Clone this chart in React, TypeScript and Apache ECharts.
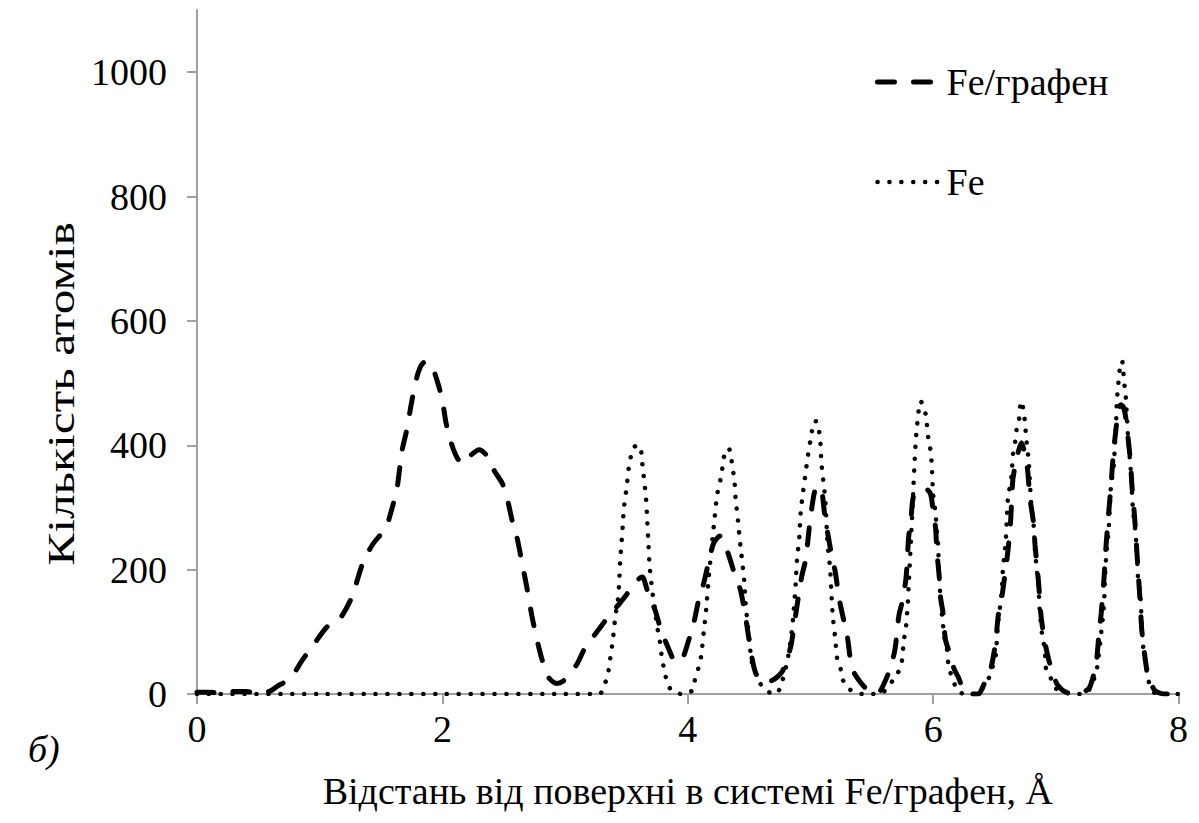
import React, { useEffect, useRef } from "react";
import * as echarts from "echarts";

const xTicks = [0, 2, 4, 6, 8];
const yTicks = [0, 200, 400, 600, 800, 1000];

const seriesNames = ["Fe/графен", "Fe"];
const xTitle = "Відстань від поверхні в системі Fe/графен, Å";
const yTitle = "Кількість атомів";
const panelLabel = "б)";

// Fe/графен (dashed)
const feGrX = [
  0, 0.1, 0.2, 0.3, 0.4, 0.5, 0.6, 0.65, 0.76, 0.86, 0.96, 1.06, 1.16, 1.26, 1.35, 1.43, 1.54, 1.59, 1.63,
  1.67, 1.71, 1.75, 1.8, 1.85, 1.9, 1.96, 2.0, 2.03, 2.07, 2.12, 2.17, 2.22, 2.3, 2.36, 2.42, 2.49, 2.53,
  2.57, 2.61, 2.65, 2.69, 2.73, 2.77, 2.81, 2.86, 2.93, 2.98, 3.05, 3.1, 3.16, 3.26, 3.34, 3.45, 3.54, 3.6,
  3.63, 3.67, 3.74, 3.78, 3.85, 3.9, 3.95, 4.01, 4.05, 4.09, 4.13, 4.17, 4.21, 4.26, 4.32, 4.39, 4.43, 4.47,
  4.52, 4.55, 4.6, 4.69, 4.77, 4.84, 4.89, 4.93, 4.96, 5.0, 5.04, 5.08, 5.12, 5.17, 5.2, 5.24, 5.3, 5.34,
  5.41, 5.47, 5.53, 5.57, 5.65, 5.69, 5.72, 5.75, 5.78, 5.8, 5.82, 5.84, 5.89, 5.94, 5.98, 6.0, 6.02, 6.03,
  6.05, 6.06, 6.08, 6.1, 6.13, 6.17, 6.21, 6.25, 6.3, 6.37, 6.41, 6.47, 6.51, 6.53, 6.56, 6.59, 6.61, 6.63,
  6.64, 6.65, 6.68, 6.72, 6.75, 6.77, 6.79, 6.82, 6.83, 6.86, 6.88, 6.91, 6.94, 6.98, 7.02, 7.1, 7.2, 7.27,
  7.3, 7.33, 7.35, 7.37, 7.39, 7.41, 7.43, 7.45, 7.47, 7.49, 7.51, 7.53, 7.55, 7.57, 7.59, 7.61, 7.62, 7.64,
  7.65, 7.67, 7.69, 7.7, 7.72, 7.74, 7.77, 7.81, 7.89, 8.0,
];
const feGrY = [
  3, 3, 1, 4, 4, 1, 5, 12, 25, 55, 82, 108, 120, 155, 210, 240, 268, 299, 330,
  390, 425, 470, 515, 533, 532, 502, 472, 436, 405, 380, 370, 382, 393, 384, 360, 338, 313,
  278, 250, 210, 170, 125, 88, 57, 28, 17, 20, 35, 49, 73, 100, 121, 147, 170, 185,
  188, 167, 131, 104, 70, 52, 54, 88, 115, 152, 178, 212, 242, 254, 231, 188, 167, 125,
  62, 36, 20, 22, 36, 77, 141, 190, 215, 283, 330, 333, 283, 226, 199, 147, 93, 41,
  18, 6, 1, 5, 41, 73, 125, 150, 188, 251, 283, 318, 329, 330, 321, 294, 267, 231,
  188, 156, 131, 88, 68, 41, 25, 5, 0, 0, 14, 41, 84, 125, 156, 199, 231, 273,
  310, 345, 378, 404, 384, 360, 314, 273, 241, 178, 125, 84, 57, 30, 13, 2, 2, 9,
  25, 50, 93, 130, 178, 240, 289, 336, 389, 425, 455, 465, 462, 445, 410, 370, 336, 290,
  262, 200, 140, 104, 70, 41, 20, 5, 0, 0,
];

// Fe (dotted)
const feX = [
  0, 1, 2, 3, 3.28, 3.32, 3.35, 3.37, 3.39, 3.41, 3.43, 3.44, 3.45, 3.47, 3.48, 3.5, 3.52, 3.54, 3.56, 3.59,
  3.62, 3.63, 3.64, 3.66, 3.67, 3.68, 3.69, 3.71, 3.73, 3.75, 3.77, 3.79, 3.81, 3.83, 3.87, 3.95, 4.04, 4.06,
  4.09, 4.11, 4.13, 4.15, 4.17, 4.2, 4.22, 4.24, 4.26, 4.28, 4.29, 4.31, 4.33, 4.35, 4.36, 4.38, 4.39, 4.41,
  4.42, 4.43, 4.45, 4.46, 4.47, 4.48, 4.5, 4.52, 4.55, 4.58, 4.64, 4.72, 4.76, 4.81, 4.84, 4.86, 4.88, 4.89,
  4.91, 4.92, 4.94, 4.96, 4.98, 5.0, 5.01, 5.03, 5.05, 5.07, 5.08, 5.09, 5.1, 5.12, 5.13, 5.14, 5.16, 5.17,
  5.18, 5.2, 5.22, 5.25, 5.27, 5.33, 5.42, 5.55, 5.6, 5.7, 5.74, 5.76, 5.78, 5.79, 5.8, 5.81, 5.82, 5.83,
  5.84, 5.85, 5.86, 5.87, 5.88, 5.895, 5.91, 5.94, 5.96, 5.98, 5.99, 6.0, 6.02, 6.03, 6.04, 6.05, 6.07, 6.08,
  6.09, 6.11, 6.13, 6.17, 6.19, 6.26, 6.35, 6.44, 6.48, 6.51, 6.52, 6.53, 6.55, 6.56, 6.57, 6.59, 6.6, 6.61,
  6.64, 6.65, 6.67, 6.68, 6.7, 6.71, 6.72, 6.74, 6.75, 6.76, 6.78, 6.79, 6.8, 6.82, 6.83, 6.84, 6.86, 6.87,
  6.89, 6.91, 6.92, 6.96, 7.0, 7.05, 7.13, 7.24, 7.29, 7.33, 7.35, 7.37, 7.39, 7.4, 7.41, 7.43, 7.44, 7.45,
  7.47, 7.48, 7.49, 7.5, 7.51, 7.52, 7.54, 7.55, 7.56, 7.57, 7.58, 7.59, 7.61, 7.62, 7.63, 7.65, 7.66, 7.67,
  7.69, 7.7, 7.71, 7.73, 7.75, 7.78, 7.82, 8.0,
];
const feY = [
  0, 0, 0, 0, 0, 14, 33, 60, 88, 125, 150, 175, 215, 270, 300, 330, 365, 385, 396, 401,
  390, 370, 352, 314, 278, 241, 204, 167, 140, 109, 88, 57, 38, 20, 5, 0, 6, 25,
  44, 62, 99, 136, 185, 246, 285, 321, 338, 360, 376, 393, 395, 389, 370, 345, 314, 278,
  257, 238, 202, 183, 150, 128, 91, 54, 35, 20, 5, 0, 14, 52, 88, 125, 178, 215,
  254, 291, 325, 355, 384, 408, 420, 439, 438, 423, 408, 370, 352, 314, 278, 241, 202, 167,
  131, 93, 54, 38, 20, 6, 0, 0, 4, 30, 46, 84, 110, 136, 172, 210, 250, 290,
  335, 378, 410, 433, 452, 471, 468, 449, 412, 390, 365, 321, 290, 262, 243, 185, 131, 112,
  93, 76, 41, 20, 6, 0, 0, 20, 41, 62, 88, 115, 147, 167, 204, 241, 278, 314,
  352, 384, 408, 425, 441, 463, 471, 452, 433, 409, 373, 336, 305, 270, 231, 210, 167, 131,
  93, 73, 41, 25, 9, 5, 0, 0, 14, 36, 62, 99, 136, 178, 220, 262, 299, 336,
  362, 393, 430, 478, 500, 520, 536, 518, 496, 478, 444, 410, 362, 325, 294, 257, 231, 188,
  156, 115, 80, 52, 25, 9, 0, 0,
];

const FONT = "Liberation Serif";
const FS = 38;
const AXIS_COLOR = "#a0a0a0";
const DASH = { color: "#000", width: 5, type: [17, 19], cap: "round" };
const DOT = { color: "#000", width: 4.5, type: [0.1, 11.8], cap: "round" };

export default function App() {
  const ref = useRef<HTMLDivElement>(null);
  useEffect(() => {
    if (!ref.current) return;
    const chart = echarts.init(ref.current, null, { renderer: "svg" });
    const pair = (xs: number[], ys: number[]) => xs.map((x, i) => [x, ys[i]]);
    chart.setOption({
      animation: false,
      backgroundColor: "#ffffff",
      textStyle: { fontFamily: FONT, color: "#000" },
      grid: { left: 189, right: 11, top: 2, bottom: 109, containLabel: false },
      legend: {
        left: 862,
        top: 50,
        orient: "vertical",
        itemWidth: 62,
        itemHeight: 14,
        itemGap: 62,
        textStyle: { fontFamily: FONT, fontSize: FS, color: "#000", lineHeight: 38, padding: [0, 0, 0, 2] },
        data: [
          { name: seriesNames[0], lineStyle: DASH, itemStyle: { color: "rgba(0,0,0,0)", borderWidth: 0, opacity: 0 } },
          { name: seriesNames[1], lineStyle: DOT, itemStyle: { color: "rgba(0,0,0,0)", borderWidth: 0, opacity: 0 } },
        ],
      },
      xAxis: {
        type: "value",
        min: 0,
        max: 8,
        interval: 2,
        name: xTitle,
        nameLocation: "middle",
        nameGap: 78,
        nameTextStyle: { fontFamily: FONT, fontSize: FS, color: "#000" },
        splitLine: { show: false },
        axisLine: { show: true, onZero: false, lineStyle: { color: AXIS_COLOR, width: 2 } },
        axisTick: { show: true, length: 10, inside: false, customValues: xTicks, lineStyle: { color: AXIS_COLOR, width: 2 } },
        axisLabel: { customValues: xTicks, fontFamily: FONT, fontSize: FS, color: "#000", margin: 16, formatter: (v: number) => String(v) },
      },
      yAxis: {
        type: "value",
        min: 0,
        max: 1100,
        interval: 200,
        splitLine: { show: false },
        axisLine: { show: true, lineStyle: { color: AXIS_COLOR, width: 2 } },
        axisTick: { show: true, length: 10, inside: false, customValues: yTicks, lineStyle: { color: AXIS_COLOR, width: 2 } },
        axisLabel: { customValues: yTicks, fontFamily: FONT, fontSize: FS, color: "#000", margin: 30, formatter: (v: number) => String(v) },
      },
      graphic: [
        {
          type: "text",
          x: 53,
          y: 386,
          rotation: Math.PI / 2,
          scaleX: 1.3,
          style: { text: yTitle, font: `${FS}px ${FONT}`, fill: "#000", align: "center", verticalAlign: "middle" },
        },
        {
          type: "text",
          left: 20,
          top: 722,
          style: { text: panelLabel, font: `italic ${FS}px ${FONT}`, fill: "#000" },
        },
      ],
      series: [
        {
          name: seriesNames[0],
          type: "line",
          data: pair(feGrX, feGrY),
          showSymbol: false,
          symbol: "none",
          smooth: 0.25,
          lineStyle: DASH,
          itemStyle: { color: "#000" },
          z: 3,
        },
        {
          name: seriesNames[1],
          type: "line",
          data: pair(feX, feY),
          showSymbol: false,
          symbol: "none",
          smooth: 0.25,
          lineStyle: DOT,
          itemStyle: { color: "#000" },
          z: 2,
        },
      ],
    });
    return () => chart.dispose();
  }, []);
  return <div ref={ref} style={{ width: 1183, height: 807 }} />;
}
